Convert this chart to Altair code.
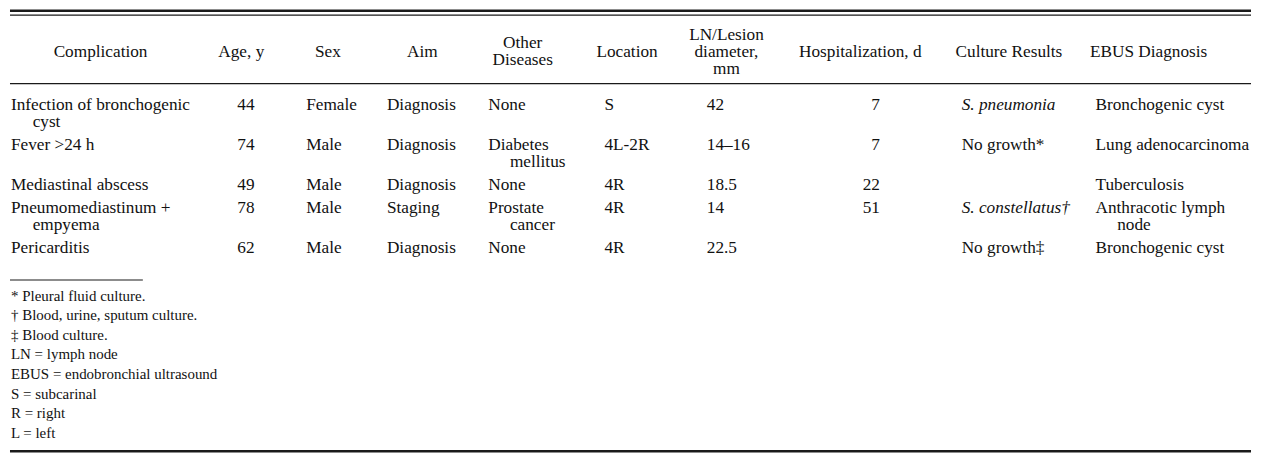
import altair as alt
import pandas as pd

# ---------------- data ----------------
headers = [["Complication"], ["Age, y"], ["Sex"], ["Aim"], ["Other", "Diseases"],
           ["Location"], ["LN/Lesion", "diameter,", "mm"], ["Hospitalization, d"],
           ["Culture Results"], ["EBUS Diagnosis"]]

complication = [["Infection of bronchogenic", "cyst"], ["Fever >24 h"], ["Mediastinal abscess"],
                ["Pneumomediastinum +", "empyema"], ["Pericarditis"]]
age = ["44", "74", "49", "78", "62"]
sex = ["Female", "Male", "Male", "Male", "Male"]
aim = ["Diagnosis", "Diagnosis", "Diagnosis", "Staging", "Diagnosis"]
other_diseases = [["None"], ["Diabetes", "mellitus"], ["None"], ["Prostate", "cancer"], ["None"]]
location = ["S", "4L-2R", "4R", "4R", "4R"]
diameter = ["42", "14\u201316", "18.5", "14", "22.5"]
hospitalization = ["7", "7", "22", "51", ""]
culture = ["S. pneumonia", "No growth*", "", "S. constellatus\u2020", "No growth\u2021"]
ebus = [["Bronchogenic cyst"], ["Lung adenocarcinoma"], ["Tuberculosis"],
        ["Anthracotic lymph", "node"], ["Bronchogenic cyst"]]
footnotes = ["* Pleural fluid culture.", "\u2020 Blood, urine, sputum culture.", "\u2021 Blood culture.",
             "LN = lymph node", "EBUS = endobronchial ultrasound", "S = subcarinal",
             "R = right", "L = left"]

# ---------------- layout / style (reference pixel units) ----------------
W, H = 1245, 445
FONT = "Liberation Serif"
BODY_SIZE = 17.3
NOTE_SIZE = 15
col_x = [1, 231, 301, 383, 486, 604, 708, 884, 967, 1103]
col_align = ["left"] * 7 + ["right", "left", "left"]
header_cx = [92, 235, 323, 419, 521, 627, 728, 864, 1015, 1157]
italic_culture = [True, False, False, True, False]
indent = 22
line_h = 17.5
row_gap = 6
header_mid = 43
body_top = 97
note_top = 292
note_step = 20

columns = [complication, age, sex, aim, other_diseases, location, diameter,
           hospitalization, culture, ebus]

def as_lines(v):
    return v if isinstance(v, list) else [v]

# header records
hdr = []
for c, lines in enumerate(headers):
    n = len(lines)
    for i, t in enumerate(lines):
        hdr.append({"text": t, "x": header_cx[c],
                    "y": header_mid + (i - (n - 1) / 2) * line_h})
hdr = pd.DataFrame(hdr)

# body records
nrows = len(age)
row_lines = [max(len(as_lines(col[r])) for col in columns) for r in range(nrows)]
body = []
cum = 0
for r in range(nrows):
    y0 = body_top + cum * line_h + r * row_gap
    for c, col in enumerate(columns):
        for i, t in enumerate(as_lines(col[r])):
            if not t:
                continue
            kind = col_align[c]
            if c == 8 and italic_culture[r]:
                kind = "italic"
            body.append({"text": t, "x": col_x[c] + (indent if i > 0 else 0),
                         "y": y0 + i * line_h, "kind": kind})
    cum += row_lines[r]
body = pd.DataFrame(body)

notes = pd.DataFrame({"text": footnotes,
                      "x": [1] * len(footnotes),
                      "y": [note_top + i * note_step for i in range(len(footnotes))]})

rules = pd.DataFrame({
    "x1": [0, 0, 0, 0, 0],
    "x2": [1261, 1261, 1261, 135, 1261],
    "y": [1, 5.5, 75.5, 276, 451],
    "w": [2.6, 1.3, 1.3, 1.1, 2.6],
})

xs = alt.Scale(domain=[0, 1261], range=[0, W], nice=False, zero=False)
ys = alt.Scale(domain=[0, 453], range=[0, H], nice=False, zero=False)


def text_layer(df, align, size, style="normal"):
    return alt.Chart(df).mark_text(
        align=align, baseline="middle", font=FONT, fontSize=size,
        fontStyle=style, color="#111111"
    ).encode(
        x=alt.X("x:Q", scale=xs, axis=None),
        y=alt.Y("y:Q", scale=ys, axis=None),
        text="text:N",
    )


layers = [
    alt.Chart(rules).mark_rule(color="#1a1a1a").encode(
        x=alt.X("x1:Q", scale=xs, axis=None),
        x2="x2:Q",
        y=alt.Y("y:Q", scale=ys, axis=None),
        strokeWidth=alt.StrokeWidth("w:Q", scale=None),
    ),
    text_layer(hdr, "center", BODY_SIZE),
    text_layer(body[body.kind == "left"], "left", BODY_SIZE),
    text_layer(body[body.kind == "right"], "right", BODY_SIZE),
    text_layer(body[body.kind == "italic"], "left", BODY_SIZE, "italic"),
    text_layer(notes, "left", NOTE_SIZE),
]

chart = alt.layer(*layers).properties(width=W, height=H, padding=0).configure_view(stroke=None)

chart.save("out.html", embed_options={"renderer": "svg", "actions": False})
